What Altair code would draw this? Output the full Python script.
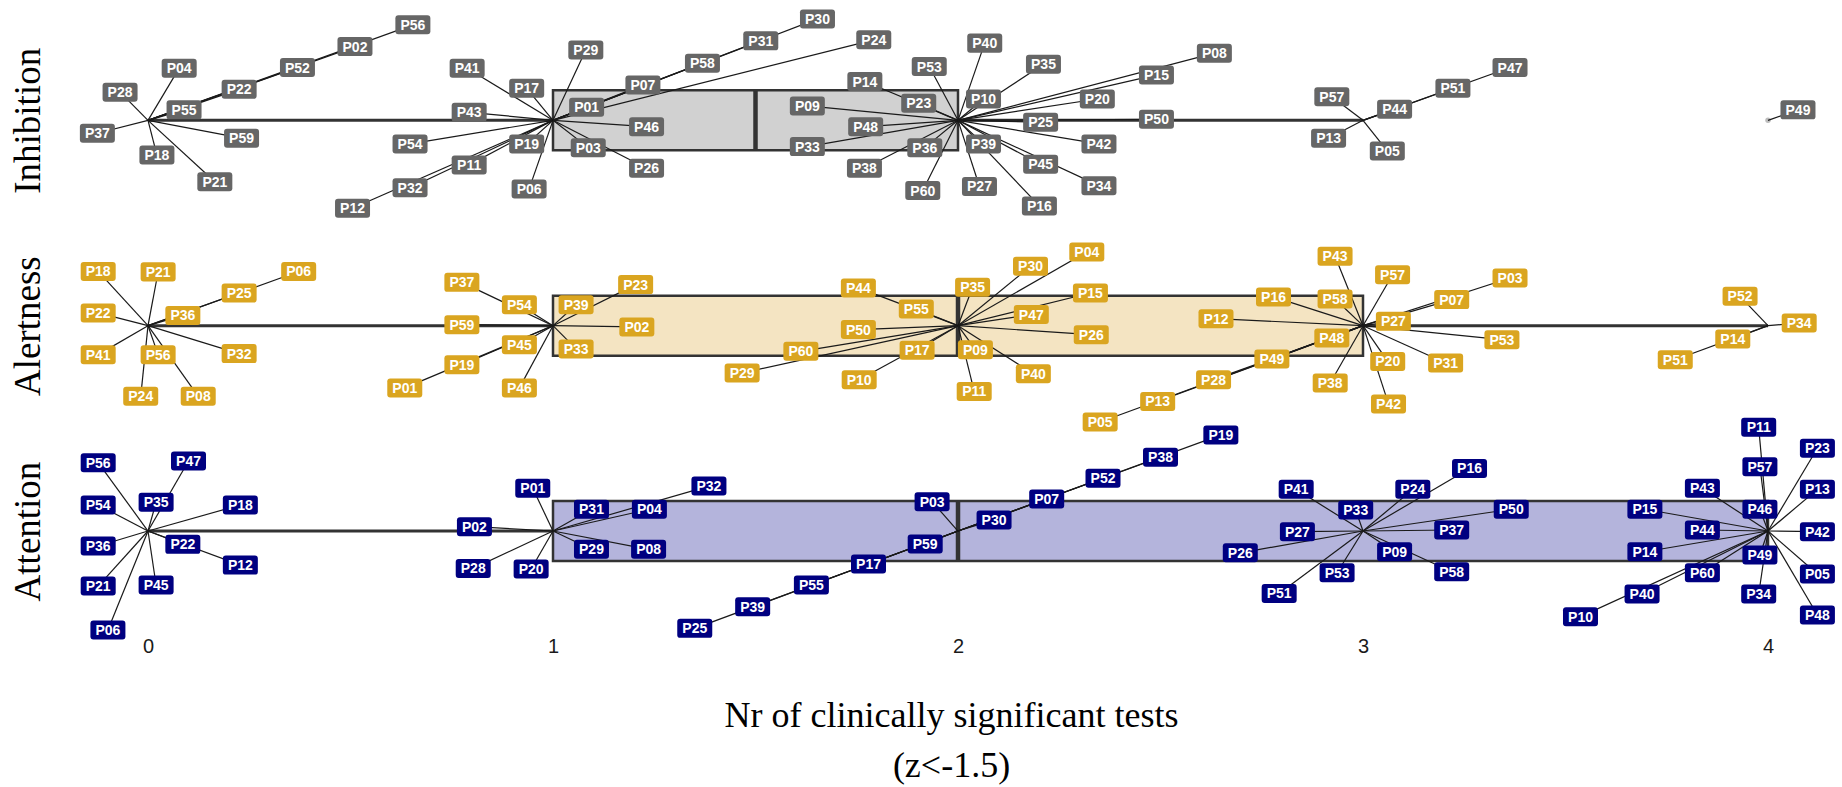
import altair as alt
import pandas as pd
import numpy as np

# ---------------- data ----------------
DOMAINS = ["Inhibition", "Alertness", "Attention"]
ROW_INDEX = {"Inhibition": 2, "Alertness": 1, "Attention": 0}

# Inhibition
inh_ids = ["P04", "P28", "P37", "P18", "P21", "P59", "P55", "P22", "P52", "P02", "P56",
           "P41", "P17", "P43", "P54", "P11", "P32", "P12", "P19", "P06", "P29", "P01",
           "P07", "P58", "P31", "P30", "P24", "P46", "P03", "P26",
           "P53", "P14", "P09", "P23", "P48", "P33", "P36", "P38", "P60", "P40", "P10",
           "P35", "P20", "P15", "P08", "P25", "P50", "P42", "P39", "P45", "P34", "P27", "P16",
           "P57", "P13", "P44", "P51", "P47", "P05",
           "P49"]
inh_vals = [0, 0, 0, 0, 0, 0, 0, 0, 0, 0, 0,
            1, 1, 1, 1, 1, 1, 1, 1, 1, 1, 1, 1, 1, 1, 1, 1, 1, 1, 1,
            2, 2, 2, 2, 2, 2, 2, 2, 2, 2, 2, 2, 2, 2, 2, 2, 2, 2, 2, 2, 2, 2, 2,
            3, 3, 3, 3, 3, 3,
            4]
inh_lx = [0.077, -0.069, -0.125, 0.022, 0.165, 0.231, 0.089, 0.225, 0.369, 0.511, 0.654,
          0.788, 0.935, 0.793, 0.647, 0.793, 0.647, 0.505, 0.935, 0.941, 1.081, 1.083,
          1.222, 1.369, 1.513, 1.653, 1.792, 1.231, 1.087, 1.231,
          1.929, 1.770, 1.628, 1.903, 1.772, 1.628, 1.918, 1.769, 1.913, 2.066, 2.063,
          2.211, 2.344, 2.490, 2.633, 2.204, 2.490, 2.348, 2.063, 2.204, 2.348, 2.053, 2.201,
          2.923, 2.915, 3.078, 3.222, 3.363, 3.060,
          4.074]
inh_ly = [2.254, 2.137, 1.937, 1.831, 1.701, 1.913, 2.051, 2.151, 2.257, 2.359, 2.465,
          2.254, 2.156, 2.039, 1.885, 1.783, 1.672, 1.572, 1.885, 1.666, 2.343, 2.064,
          2.172, 2.278, 2.387, 2.494, 2.392, 1.969, 1.867, 1.767,
          2.262, 2.189, 2.070, 2.083, 1.969, 1.872, 1.867, 1.767, 1.658, 2.376, 2.104,
          2.273, 2.104, 2.221, 2.327, 1.991, 2.005, 1.885, 1.885, 1.786, 1.682, 1.678, 1.583,
          2.115, 1.913, 2.054, 2.156, 2.257, 1.851,
          2.051]

# Alertness
ale_ids = ["P18", "P21", "P22", "P36", "P25", "P06", "P41", "P56", "P32", "P24", "P08",
           "P37", "P54", "P59", "P45", "P19", "P01", "P46", "P39", "P33", "P23", "P02",
           "P44", "P55", "P50", "P60", "P17", "P29", "P10", "P35", "P30", "P04", "P15",
           "P47", "P26", "P09", "P40", "P11",
           "P43", "P57", "P16", "P58", "P12", "P07", "P03", "P27", "P53", "P48", "P49",
           "P28", "P13", "P05", "P20", "P31", "P38", "P42",
           "P52", "P34", "P14", "P51"]
ale_vals = [0, 0, 0, 0, 0, 0, 0, 0, 0, 0, 0,
            1, 1, 1, 1, 1, 1, 1, 1, 1, 1, 1,
            2, 2, 2, 2, 2, 2, 2, 2, 2, 2, 2, 2, 2, 2, 2, 2,
            3, 3, 3, 3, 3, 3, 3, 3, 3, 3, 3, 3, 3, 3, 3, 3, 3, 3,
            4, 4, 4, 4]
ale_lx = [-0.123, 0.025, -0.123, 0.086, 0.225, 0.372, -0.123, 0.025, 0.225, -0.018, 0.124,
          0.775, 0.917, 0.775, 0.917, 0.775, 0.634, 0.917, 1.057, 1.057, 1.204, 1.207,
          1.754, 1.897, 1.754, 1.612, 1.899, 1.467, 1.756, 2.036, 2.179, 2.318, 2.327,
          2.181, 2.329, 2.043, 2.186, 2.040,
          2.931, 3.073, 2.779, 2.931, 2.637, 3.219, 3.363, 3.075, 3.343, 2.923, 2.775,
          2.631, 2.493, 2.351, 3.061, 3.204, 2.919, 3.063,
          3.931, 4.077, 3.913, 3.771]
ale_ly = [1.264, 1.262, 1.062, 1.050, 1.159, 1.264, 0.859, 0.859, 0.864, 0.656, 0.656,
          1.211, 1.102, 1.005, 0.907, 0.810, 0.697, 0.697, 1.102, 0.887, 1.200, 0.994,
          1.184, 1.081, 0.981, 0.875, 0.880, 0.770, 0.737, 1.187, 1.289, 1.359, 1.159,
          1.054, 0.956, 0.883, 0.766, 0.680,
          1.338, 1.248, 1.140, 1.130, 1.034, 1.127, 1.232, 1.021, 0.932, 0.940, 0.838,
          0.737, 0.631, 0.531, 0.826, 0.818, 0.721, 0.619,
          1.143, 1.013, 0.935, 0.834]

# Attention
att_ids = ["P56", "P47", "P54", "P35", "P18", "P36", "P22", "P12", "P21", "P45", "P06",
           "P01", "P02", "P28", "P20", "P31", "P04", "P32", "P29", "P08",
           "P03", "P59", "P17", "P55", "P39", "P25", "P30", "P07", "P52", "P38", "P19",
           "P41", "P33", "P24", "P16", "P50", "P27", "P37", "P26", "P09", "P58", "P53", "P51",
           "P11", "P23", "P57", "P43", "P13", "P46", "P15", "P44", "P42", "P14", "P49",
           "P60", "P05", "P34", "P40", "P10", "P48"]
att_vals = [0, 0, 0, 0, 0, 0, 0, 0, 0, 0, 0,
            1, 1, 1, 1, 1, 1, 1, 1, 1,
            2, 2, 2, 2, 2, 2, 2, 2, 2, 2, 2,
            3, 3, 3, 3, 3, 3, 3, 3, 3, 3, 3, 3,
            4, 4, 4, 4, 4, 4, 4, 4, 4, 4, 4, 4, 4, 4, 4, 4, 4]
att_lx = [-0.123, 0.100, -0.123, 0.020, 0.228, -0.123, 0.086, 0.228, -0.123, 0.020, -0.099,
          0.950, 0.806, 0.803, 0.946, 1.095, 1.238, 1.385, 1.095, 1.236,
          1.936, 1.919, 1.779, 1.638, 1.493, 1.350, 2.089, 2.219, 2.358, 2.500, 2.649,
          2.835, 2.982, 3.123, 3.263, 3.366, 2.838, 3.219, 2.697, 3.078, 3.219, 2.936, 2.793,
          3.977, 4.122, 3.980, 3.838, 4.122, 3.980, 3.696, 3.838, 4.122, 3.696, 3.980,
          3.838, 4.122, 3.977, 3.689, 3.537, 4.122]
att_ly = [0.333, 0.341, 0.127, 0.140, 0.127, -0.073, -0.065, -0.166, -0.268, -0.263, -0.482,
          0.208, 0.021, -0.182, -0.185, 0.106, 0.106, 0.219, -0.089, -0.089,
          0.143, -0.063, -0.161, -0.263, -0.369, -0.474, 0.054, 0.156, 0.257, 0.359, 0.468,
          0.203, 0.102, 0.203, 0.305, 0.106, -0.003, 0.005, -0.106, -0.101, -0.198, -0.203, -0.304,
          0.505, 0.403, 0.313, 0.208, 0.203, 0.106, 0.106, 0.005, -0.003, -0.101, -0.117,
          -0.203, -0.209, -0.307, -0.307, -0.417, -0.409]

# ---------------- styles ----------------
LABEL_COLORS = ["#666666", "#DAA520", "#000080"]
BOX_FILLS = ["#D1D1D1", "#F4E4C2", "#B4B4DC"]
LINE_COL = "#333333"
BOX_HALF = 0.146          # half box height, in row units
X_DOMAIN = [-0.2173, 4.1827]
Y_DOMAIN = [-0.482, 2.586]
LABEL_W = 35
SHAPE = ("M-0.83,-0.543L0.83,-0.543Q1,-0.543 1,-0.373L1,0.373Q1,0.543 0.83,0.543"
         "L-0.83,0.543Q-1,0.543 -1,0.373L-1,-0.373Q-1,-0.543 -0.83,-0.543Z")

# ---------------- tables ----------------
sources = {
    "Inhibition": (inh_ids, inh_vals, inh_lx, inh_ly),
    "Alertness": (ale_ids, ale_vals, ale_lx, ale_ly),
    "Attention": (att_ids, att_vals, att_lx, att_ly),
}
lab_rows, box_rows, out_rows = [], [], []
for d, (ids, vals, lx, ly) in sources.items():
    r = ROW_INDEX[d]
    for i, v, a, b in zip(ids, vals, lx, ly):
        lab_rows.append(dict(domain=d, id=i, value=v, row=r, lx=a, ly=b))
    v = np.array(vals, dtype=float)
    q1, med, q3 = np.percentile(v, [25, 50, 75])
    iqr = q3 - q1
    inside = v[(v >= q1 - 1.5 * iqr) & (v <= q3 + 1.5 * iqr)]
    box_rows.append(dict(domain=d, row=r, q1=q1, med=med, q3=q3,
                         lo=inside.min(), hi=inside.max(),
                         ylo=r - BOX_HALF, yhi=r + BOX_HALF))
    for o in v[(v < q1 - 1.5 * iqr) | (v > q3 + 1.5 * iqr)]:
        out_rows.append(dict(domain=d, row=r, value=o))

labels = pd.DataFrame(lab_rows)
boxes = pd.DataFrame(box_rows)
outs = pd.DataFrame(out_rows)

xs = alt.Scale(domain=X_DOMAIN, nice=False, zero=False)
ys = alt.Scale(domain=Y_DOMAIN, nice=False, zero=False)

X_TITLE = ["Nr of clinically significant tests", "(z<-1.5)"]
x_axis = alt.Axis(values=[0, 1, 2, 3, 4], format="d", ticks=False, domain=False, grid=False,
                  labelFont="Liberation Sans Narrow, Liberation Sans", labelFontSize=20,
                  labelColor="#1a1a1a", labelPadding=6, labelFlush=False,
                  title=X_TITLE,
                  titleFont="Liberation Serif", titleFontSize=36, titleFontWeight="normal",
                  titleColor="black", titlePadding=42, titleLineHeight=50)
y_axis = alt.Axis(values=[0, 1, 2], ticks=False, domain=False, grid=False, tickSize=0,
                  labelExpr="datum.value == 2 ? 'Inhibition' : (datum.value == 1 ? 'Alertness' : 'Attention')",
                  labelFont="Liberation Serif", labelFontSize=37, labelColor="black",
                  labelAngle=270, labelAlign="center", labelBaseline="alphabetic",
                  labelPadding=21, labelFlush=False, labelOverlap=False, labelBound=False,
                  title=None)


def X(field):
    return alt.X(field, scale=xs, axis=x_axis, title=X_TITLE)


def Y(field):
    return alt.Y(field, scale=ys, axis=y_axis, title=None)


whisk = alt.Chart(boxes).mark_rule(color=LINE_COL, strokeWidth=3).encode(
    x=X("lo:Q"), x2="hi:Q", y=Y("row:Q"),
)

box = alt.Chart(boxes).mark_rect(stroke=LINE_COL, strokeWidth=2.5).encode(
    x=X("q1:Q"), x2="q3:Q", y=Y("ylo:Q"), y2="yhi:Q",
    fill=alt.Fill("domain:N", scale=alt.Scale(domain=DOMAINS, range=BOX_FILLS), legend=None),
)

median = alt.Chart(boxes).mark_rule(color=LINE_COL, strokeWidth=4.5).encode(
    x=X("med:Q"), y=Y("ylo:Q"), y2="yhi:Q",
)

outliers = alt.Chart(outs).mark_circle(color="#BDBDBD", size=30, opacity=1).encode(
    x=X("value:Q"), y=Y("row:Q"),
)

segs = alt.Chart(labels).mark_rule(color="#1a1a1a", strokeWidth=1.2).encode(
    x=X("value:Q"), y=Y("row:Q"), x2="lx:Q", y2="ly:Q",
)

tags = alt.Chart(labels).mark_point(shape=SHAPE, filled=True, opacity=1,
                                    size=LABEL_W * LABEL_W, strokeWidth=0).encode(
    x=X("lx:Q"), y=Y("ly:Q"),
    color=alt.Color("domain:N", scale=alt.Scale(domain=DOMAINS, range=LABEL_COLORS), legend=None),
)

texts = alt.Chart(labels).mark_text(font="Liberation Sans", fontWeight="bold", fontSize=14,
                                    color="white", align="center", baseline="middle", dy=1).encode(
    x=X("lx:Q"), y=Y("ly:Q"), text="id:N",
)

chart = alt.layer(whisk, box, median, outliers, segs, tags, texts).properties(
    width=1782, height=630,
    autosize=alt.AutoSizeParams(type="none"),
    padding={"left": 60, "top": 0, "right": 0, "bottom": 157},
    background="white",
).configure_view(stroke=None)

chart.save("out.html", embed_options={"renderer": "svg", "actions": False})
